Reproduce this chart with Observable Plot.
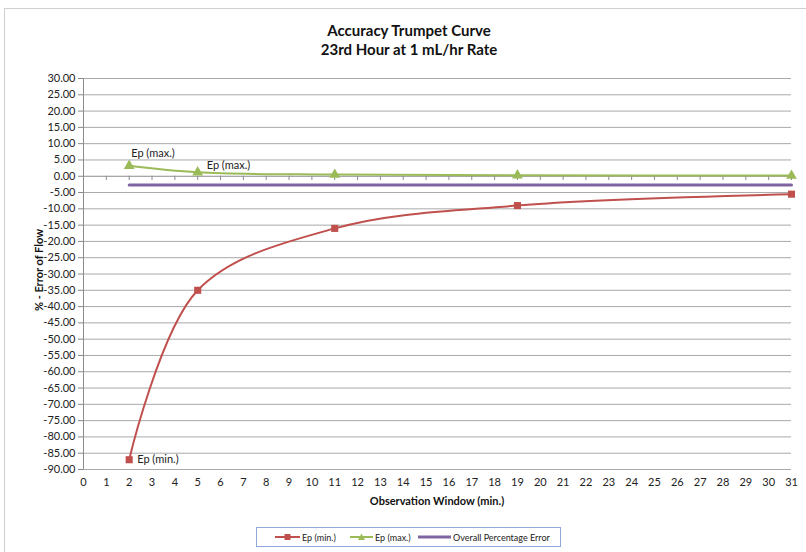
<!DOCTYPE html>
<html><head><meta charset="utf-8">
<script src="https://cdn.jsdelivr.net/npm/d3@7"></script>
<script src="https://cdn.jsdelivr.net/npm/@observablehq/plot@0.6"></script>
<style>
body{margin:0;background:#fff;font-family:Lato,"Open Sans",sans-serif;}
#wrap{position:relative;width:806px;height:552px;overflow:hidden;}
#frame{position:absolute;left:4px;top:8px;width:806px;height:550px;border:1px solid #cfcfcf;box-sizing:border-box;}
.t{position:absolute;font-weight:bold;color:#111;white-space:nowrap;}
#legend{position:absolute;left:256px;top:527px;width:305px;height:20px;border:1px solid #8eaadb;box-sizing:border-box;font-size:9px;color:#222;}
#legend span{position:absolute;top:4px;}
svg.plot{position:absolute;left:0;top:0;}
</style></head>
<body><div id="wrap"><div id="frame"></div></div>
<script>
const xVals = [2, 5, 11, 19, 31];
const epMin = [-87, -35, -16, -9, -5.5];
const epMax = [3.2, 1.2, 0.5, 0.3, 0.2];
const overallX = [2, 31];
const overallVal = -2.7;
const yTicks = d3.range(-90, 31, 5);
const xTicks = d3.range(0, 32, 1);
const seriesNames = ["Ep (min.)", "Ep (max.)", "Overall Percentage Error"];
const colors = ["#c0504d", "#9bbb59", "#8064a2"];
const pointLabels = [
  {x: 2, y: 3.2, text: "Ep (max.)", dx: 2, dy: -12},
  {x: 5, y: 1.2, text: "Ep (max.)", dx: 9, dy: -7},
  {x: 2, y: -87, text: "Ep (min.)", dx: 8, dy: 0}
];

const minData = xVals.map((x, i) => ({x, y: epMin[i]}));
const maxData = xVals.map((x, i) => ({x, y: epMax[i]}));
const overallData = overallX.map(x => ({x, y: overallVal}));

const chart = Plot.plot({
  width: 806, height: 552,
  marginTop: 78, marginLeft: 83, marginRight: 15, marginBottom: 83,
  x: {domain: [0, 31]},
  y: {domain: [-90, 30]},
  style: {fontFamily: "Lato, 'Open Sans', sans-serif", fontSize: "11px", color: "#222", background: "transparent"},
  marks: [
    Plot.gridY(yTicks.filter(t => t !== 0), {stroke: "#a9a9a9", strokeOpacity: 1}),
    Plot.axisY(yTicks, {tickFormat: d => d.toFixed(2), tickSize: 5, tickPadding: 3, label: null, stroke: "#888"}),
    Plot.axisX(xTicks, {tickSize: 0, tickPadding: 9, label: null}),
    Plot.ruleY([0], {stroke: "#8c8c8c"}),
    Plot.ruleX([0], {stroke: "#8c8c8c"}),
    Plot.ruleX(xTicks, {x: d => d, y1: 0, y2: -1.3, stroke: "#8c8c8c"}),
    Plot.line(overallData, {x: "x", y: "y", stroke: colors[2], strokeWidth: 3}),
    Plot.line(maxData, {x: "x", y: "y", stroke: colors[1], strokeWidth: 2, curve: "catmull-rom"}),
    Plot.dot(maxData, {x: "x", y: "y", symbol: "triangle", fill: colors[1], r: 4}),
    Plot.line(minData, {x: "x", y: "y", stroke: colors[0], strokeWidth: 2, curve: "catmull-rom"}),
    Plot.dot(minData, {x: "x", y: "y", symbol: "square", fill: colors[0], r: 4}),
    Plot.text(pointLabels, {x: "x", y: "y", text: "text", textAnchor: "start", fontSize: 11, fill: "#222"})
  ]
});
const wrap = document.getElementById("wrap");
wrap.appendChild(chart);
const labelNodes = chart.querySelectorAll("g[aria-label='text'] text");
labelNodes.forEach((n, i) => {
  const l = pointLabels[i];
  n.setAttribute("transform", (n.getAttribute("transform") || "") + ` translate(${l.dx},${l.dy})`);
});

function addText(txt, style) {
  const d = document.createElement("div");
  d.className = "t";
  d.textContent = txt;
  Object.assign(d.style, style);
  wrap.appendChild(d);
  return d;
}
addText("Accuracy Trumpet Curve", {left: "0", width: "818px", textAlign: "center", top: "21px", fontSize: "15px"});
addText("23rd Hour at 1 mL/hr Rate", {left: "0", width: "818px", textAlign: "center", top: "40px", fontSize: "15px"});
addText("Observation Window (min.)", {left: "83px", width: "708px", textAlign: "center", top: "494px", fontSize: "11px"});
addText("% - Error of Flow", {left: "38px", top: "270px", fontSize: "11px", transform: "translate(-50%,-50%) rotate(-90deg)"});

const lg = document.createElement("div");
lg.id = "legend";
const items = [
  {x: 18, w: 25, sym: "rect"}, {x: 93, w: 23, sym: "tri"}, {x: 161, w: 33, sym: null}
];
let html = "";
items.forEach((it, i) => {
  const c = colors[i];
  const sw = i === 2 ? 3 : 2;
  let m = "";
  if (it.sym === "rect") m = `<rect x="${it.w/2-3}" y="2" width="6" height="6" fill="${c}"/>`;
  if (it.sym === "tri") m = `<path d="M${it.w/2},1.5 L${it.w/2+3.5},8 L${it.w/2-3.5},8Z" fill="${c}"/>`;
  html += `<svg style="position:absolute;left:${it.x}px;top:4px" width="${it.w}" height="10"><line x1="0" x2="${it.w}" y1="5" y2="5" stroke="${c}" stroke-width="${sw}"/>${m}</svg>`;
  html += `<span style="left:${it.x + it.w + 2}px">${seriesNames[i]}</span>`;
});
lg.innerHTML = html;
wrap.appendChild(lg);
</script>
</body></html>
